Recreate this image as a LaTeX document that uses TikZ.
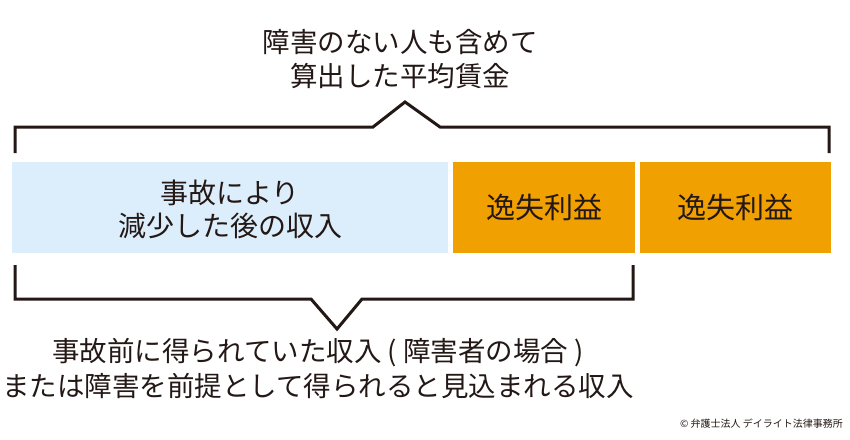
\documentclass[tikz,border=0pt]{standalone}
\usepackage{fontspec}
\setmainfont{Noto Sans CJK JP}
\definecolor{lblue}{HTML}{DCEEFB}
\definecolor{orng}{HTML}{F0A000}
\definecolor{ink}{HTML}{231815}
\begin{document}
\begin{tikzpicture}[x=1pt,y=-1pt,
  box/.style={rectangle,inner sep=0pt,draw=none},
  lbl/.style={text=ink,font=\fontsize{27.5}{34}\selectfont,align=center,inner sep=0pt},
  brk/.style={draw=ink,line width=3pt,line join=miter}]
\useasboundingbox[fill=white] (0,0) rectangle (850,439);
\node[box,fill=lblue,minimum width=436pt,minimum height=91pt] (blue) at (230,207.5) {};
\node[box,fill=orng,minimum width=182pt,minimum height=91pt] (o1) at (544,207.5) {};
\node[box,fill=orng,minimum width=191pt,minimum height=91pt] (o2) at (735.5,207.5) {};
\node[lbl,font=\fontsize{28}{33}\selectfont] (bt) at ([yshift=-2pt]blue.center) {事故により\\減少した後の収入};
\node[lbl,font=\fontsize{29}{33}\selectfont] (o1t) at (o1.center) {逸失利益};
\node[lbl,font=\fontsize{29}{33}\selectfont] (o2t) at (o2.center) {逸失利益};
\node[lbl] (top) at (400,59) {障害のない人も含めて\\算出した平均賃金};
\node[lbl,font=\fontsize{27.5}{35}\selectfont] (bot) at (318,368) {事故前に得られていた収入 ( 障害者の場合 )\\または障害を前提として得られると見込まれる収入};
\node[text=ink,font=\fontsize{10}{12}\selectfont,inner sep=0pt,anchor=east] (copy) at (843,424) {© 弁護士法人 デイライト法律事務所};
% top bracket
\coordinate (tl) at (15,153);
\coordinate (tr) at (829,153);
\draw[brk] (tl) -- (15,127) -- (373,127) -- (405,102) -- (440,127) -- (829,127) -- (tr);
% bottom bracket
\coordinate (bl) at (15,265);
\coordinate (br) at (633,265);
\draw[brk] (bl) -- (15,299) -- (311,299) -- (337,329) -- (362,299) -- (633,299) -- (br);
\end{tikzpicture}
\end{document}
